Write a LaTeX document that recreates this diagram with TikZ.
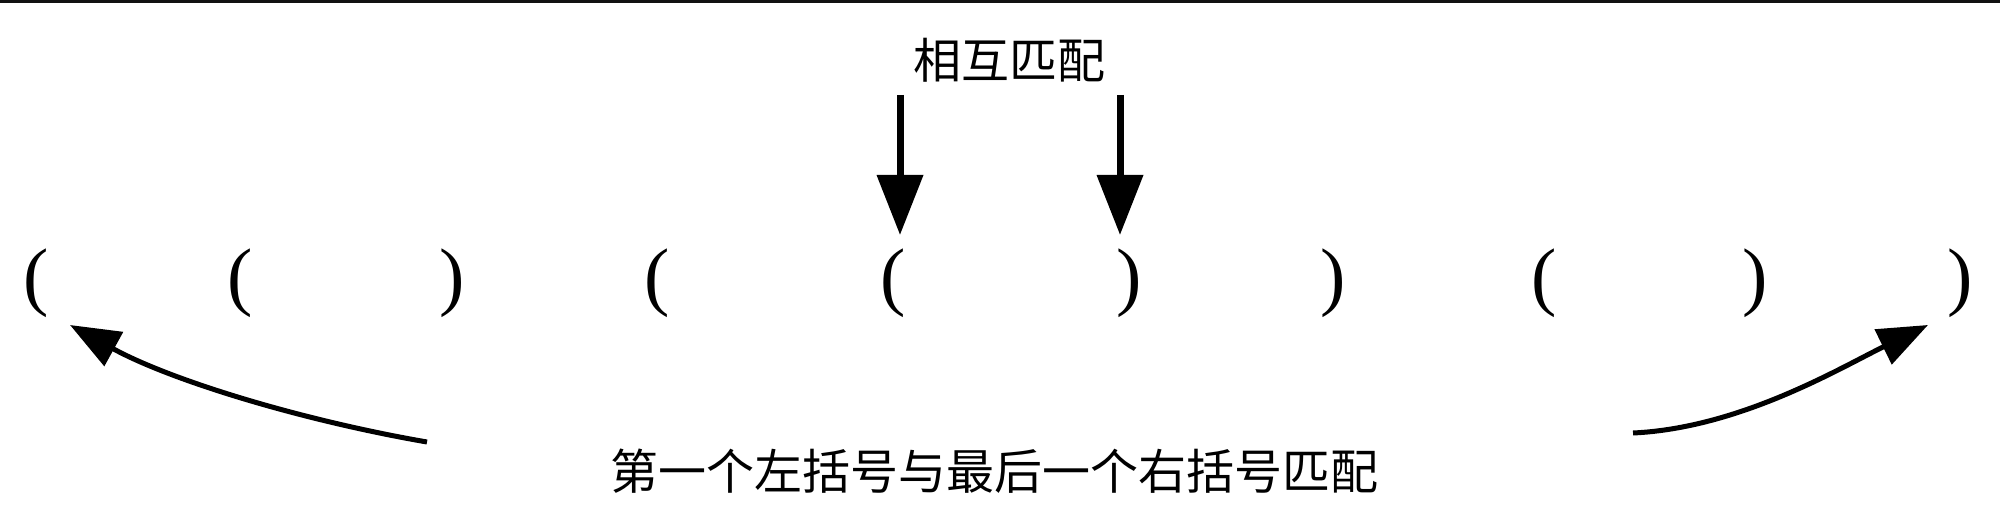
\documentclass[tikz,border=0pt]{standalone}
\usepackage{fontspec}
\setmainfont{Liberation Serif}
\newfontfamily\cjk{Noto Sans CJK SC}
\usetikzlibrary{arrows.meta}
\begin{document}
\begin{tikzpicture}[x=0.5pt,y=-0.5pt,
  paren/.style={inner sep=0pt,font=\fontsize{38}{38}\selectfont},
  label/.style={inner sep=0pt,font=\cjk\fontsize{24}{24}\selectfont},
  vert/.style={line width=3.5pt,-{Triangle[length=30pt,width=22.5pt]}},
  curv/.style={line width=2.5pt,-{Triangle[length=25pt,width=19pt]}}]
\useasboundingbox (0,0) rectangle (2000,518);
\fill[black!93] (0,0) rectangle (2000,3);
% parentheses
\node[paren] (p1) at (36,283) {(};
\node[paren] (p2) at (240,283) {(};
\node[paren] (p3) at (452,283) {)};
\node[paren] (p4) at (657,283) {(};
\node[paren] (p5) at (893,283) {(};
\node[paren] (p6) at (1129,283) {)};
\node[paren] (p7) at (1333,283) {)};
\node[paren] (p8) at (1544,283) {(};
\node[paren] (p9) at (1755,283) {)};
\node[paren] (p10) at (1960,283) {)};
% labels
\node[label] (top) at (1009,60) {相互匹配};
\node[label] (bot) at (994,471) {第一个左括号与最后一个右括号匹配};
% vertical arrows
\coordinate (a1s) at (900,95);
\coordinate (a1e) at (900,235);
\coordinate (a2s) at (1120,95);
\coordinate (a2e) at (1120,235);
\draw[vert] (a1s) -- (a1e);
\draw[vert] (a2s) -- (a2e);
% curved arrows
\coordinate (c1s) at (427,442);
\coordinate (c1e) at (70,325);
\coordinate (c2s) at (1633,433);
\coordinate (c2e) at (1928,325);
\draw[curv] (c1s) .. controls (300,420) and (170,380) .. (c1e);
\draw[curv] (c2s) .. controls (1740,428) and (1840,368) .. (c2e);
\end{tikzpicture}
\end{document}
